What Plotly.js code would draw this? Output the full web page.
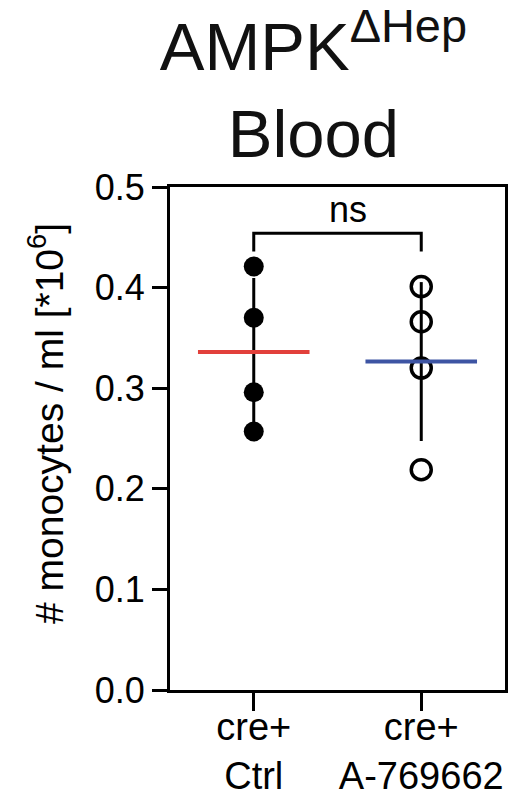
<!DOCTYPE html>
<html>
<head>
<meta charset="utf-8">
<script src="https://cdn.plot.ly/plotly-3.0.1.min.js"></script>
<style>
  html, body { margin: 0; padding: 0; background: #fff; }
  #chart { width: 518px; height: 798px; }
</style>
</head>
<body>
<div id="chart"></div>
<script>
// Group labels on the x axis
const groups = ['cre+<br>Ctrl', 'cre+<br>A-769662'];
const groupPos = [0, 1];

// Monocyte counts per animal, in 10^6 per ml
const ctrlValues = [0.421, 0.370, 0.296, 0.257];
const drugValues = [0.401, 0.366, 0.320, 0.219];

// Y axis ticks
const yTicks = [0.0, 0.1, 0.2, 0.3, 0.4, 0.5];

// Significance label between the groups
const sigLabel = 'ns';

function mean(a) { return a.reduce((s, v) => s + v, 0) / a.length; }
function sd(a) {
  const m = mean(a);
  return Math.sqrt(a.reduce((s, v) => s + (v - m) * (v - m), 0) / (a.length - 1));
}

const means = [mean(ctrlValues), mean(drugValues)];
const sds = [sd(ctrlValues), sd(drugValues)];
const halfWidth = 0.333;
const font = 'Liberation Sans, Arial, Helvetica, sans-serif';

const traces = [
  // mean ± SD whiskers
  {
    type: 'scatter', mode: 'markers',
    x: groupPos, y: means,
    marker: { size: 1, color: 'rgba(0,0,0,0)' },
    error_y: { type: 'data', array: sds, visible: true, color: '#000', thickness: 3, width: 0 },
    hoverinfo: 'skip'
  },
  // Ctrl animals
  {
    type: 'scatter', mode: 'markers',
    x: ctrlValues.map(() => groupPos[0]), y: ctrlValues,
    marker: { symbol: 'circle', size: 20, color: '#000' }
  },
  // A-769662 animals
  {
    type: 'scatter', mode: 'markers',
    x: drugValues.map(() => groupPos[1]), y: drugValues,
    marker: { symbol: 'circle-open', size: 20, color: '#000', line: { width: 3.5, color: '#000' } }
  },
  // group means
  {
    type: 'scatter', mode: 'lines',
    x: [groupPos[0] - halfWidth, groupPos[0] + halfWidth], y: [means[0], means[0]],
    line: { color: '#e2403b', width: 4 }
  },
  {
    type: 'scatter', mode: 'lines',
    x: [groupPos[1] - halfWidth, groupPos[1] + halfWidth], y: [means[1], means[1]],
    line: { color: '#3d54a3', width: 4 }
  },
  // comparison bracket
  {
    type: 'scatter', mode: 'lines',
    x: [groupPos[0], groupPos[0], groupPos[1], groupPos[1]],
    y: [0.436, 0.454, 0.454, 0.436],
    line: { color: '#000', width: 3 }
  }
];

const layout = {
  width: 518, height: 798,
  margin: { l: 170, r: 13, t: 187, b: 108 },
  paper_bgcolor: '#fff', plot_bgcolor: '#fff',
  showlegend: false, hovermode: false,
  font: { family: font, color: '#000' },
  title: {
    text: 'AMPK<sup>ΔHep</sup><br>Blood',
    font: { family: font, size: 67, color: '#111' },
    xref: 'container', x: 0.605, xanchor: 'center',
    yref: 'container', y: 0.912, yanchor: 'top'
  },
  xaxis: {
    range: [-0.5, 1.5],
    tickmode: 'array', tickvals: groupPos, ticktext: groups,
    ticks: 'outside', ticklen: 18, tickwidth: 3, tickcolor: '#000',
    ticklabelstandoff: -17,
    showline: true, linewidth: 3, linecolor: '#000', mirror: true,
    showgrid: false, zeroline: false,
    tickfont: { family: font, size: 38, color: '#000' }
  },
  yaxis: {
    range: [0, 0.5],
    tickmode: 'array', tickvals: yTicks, ticktext: yTicks.map(v => v.toFixed(1)),
    ticks: 'outside', ticklen: 15, tickwidth: 3, tickcolor: '#000',
    showline: true, linewidth: 3, linecolor: '#000', mirror: true,
    showgrid: false, zeroline: false,
    tickfont: { family: font, size: 36, color: '#000' }
  },
  annotations: [
    {
      text: sigLabel, xref: 'x', yref: 'y', x: 0.56, y: 0.478,
      xanchor: 'center', yanchor: 'middle', showarrow: false,
      font: { family: font, size: 36, color: '#000' }
    },
    {
      text: '# monocytes / ml [*10<sup>6</sup>]',
      xref: 'paper', yref: 'paper', x: -0.37, y: 0.529,
      xanchor: 'center', yanchor: 'middle', textangle: -90, showarrow: false,
      font: { family: font, size: 39, color: '#000' }
    }
  ]
};

Plotly.newPlot('chart', traces, layout, { displayModeBar: false, staticPlot: true });
</script>
</body>
</html>
